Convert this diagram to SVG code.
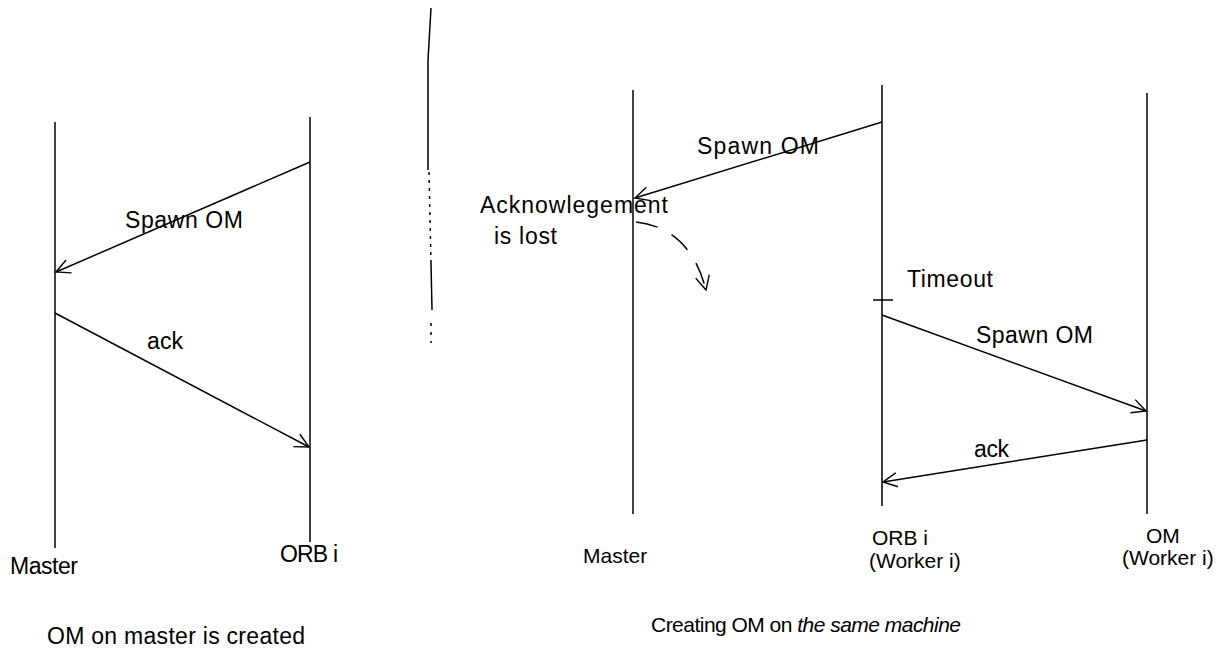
<svg xmlns="http://www.w3.org/2000/svg" width="1224" height="650" viewBox="0 0 1224 650">
<style>
  .life{stroke:#000;stroke-width:1.5;fill:none}
  .msg{stroke:#000;stroke-width:1.5;fill:none;marker-end:url(#open)}
  .t{font-family:"Liberation Sans",Arial,sans-serif;font-size:23px;fill:#000}
  .s{font-family:"Liberation Sans",Arial,sans-serif;font-size:21px;fill:#000}
</style>
<defs>
  <marker id="open" markerUnits="userSpaceOnUse" viewBox="0 0 20 20" refX="18" refY="10" markerWidth="20" markerHeight="20" orient="auto">
    <path d="M4,3 L18,10 L4,17" fill="none" stroke="#000" stroke-width="1.4"/>
  </marker>
</defs>
<rect width="1224" height="650" fill="#fff"/>

<!-- divider -->
<g id="divider" stroke="#000" stroke-width="1.5" fill="none">
  <path d="M431,8 L428,60 L428,170"/>
  <path d="M429,172 L431,263" stroke-dasharray="3 5"/>
  <path d="M431,263 L432,310"/>
  <path d="M431,323 L431,343" stroke-dasharray="3 6"/>
</g>

<!-- Left diagram -->
<g id="left-master">
  <line class="life" x1="55" y1="122" x2="55" y2="548"/>
  <text class="t" x="10" y="574" textLength="68">Master</text>
</g>
<g id="left-orb">
  <line class="life" x1="310" y1="117" x2="310" y2="542"/>
  <text class="t" x="280" y="562" textLength="58">ORB i</text>
</g>
<g id="left-caption">
  <text class="t" x="47" y="644" textLength="258">OM on master is created</text>
</g>

<!-- Right diagram -->
<g id="right-master">
  <line class="life" x1="633" y1="90" x2="633" y2="514"/>
  <text class="s" x="583" y="563">Master</text>
</g>
<g id="right-orb">
  <line class="life" x1="882" y1="85" x2="882" y2="506"/>
  <text class="s" x="872" y="545">ORB i</text>
  <text class="s" x="869" y="568">(Worker i)</text>
</g>
<g id="right-om">
  <line class="life" x1="1147" y1="93" x2="1147" y2="514"/>
  <text class="s" x="1146" y="543">OM</text>
  <text class="s" x="1122" y="565">(Worker i)</text>
</g>
<g id="right-caption">
  <text class="s" x="651" y="632" textLength="310">Creating OM on <tspan font-style="italic">the same machine</tspan></text>
</g>

<g id="connectors">
  <path class="msg" d="M310,162 L56,272"/>
  <path class="msg" d="M55,313 L309,447"/>
  <path class="msg" d="M882,122 L635,198"/>
  <path class="msg" d="M882,315 L1146,411"/>
  <path class="msg" d="M1147,440 L883,482"/>
  <path d="M636,222 Q690,228 706,290" fill="none" stroke="#000" stroke-width="1.5" stroke-dasharray="22 16" marker-end="url(#open)"/>
  <line x1="873" y1="300" x2="893" y2="300" stroke="#000" stroke-width="1.5"/>
</g>

<g id="labels">
  <text class="t" x="125" y="228" textLength="118">Spawn OM</text>
  <text class="t" x="147" y="349" textLength="36">ack</text>
  <text class="t" x="697" y="154" textLength="122">Spawn OM</text>
  <text class="t" x="480" y="213" textLength="188">Acknowlegement</text>
  <text class="t" x="494" y="244" textLength="63">is lost</text>
  <text class="t" x="907" y="287" textLength="86">Timeout</text>
  <text class="t" x="976" y="343" textLength="117">Spawn OM</text>
  <text class="t" x="974" y="457" textLength="35">ack</text>
</g>
</svg>
